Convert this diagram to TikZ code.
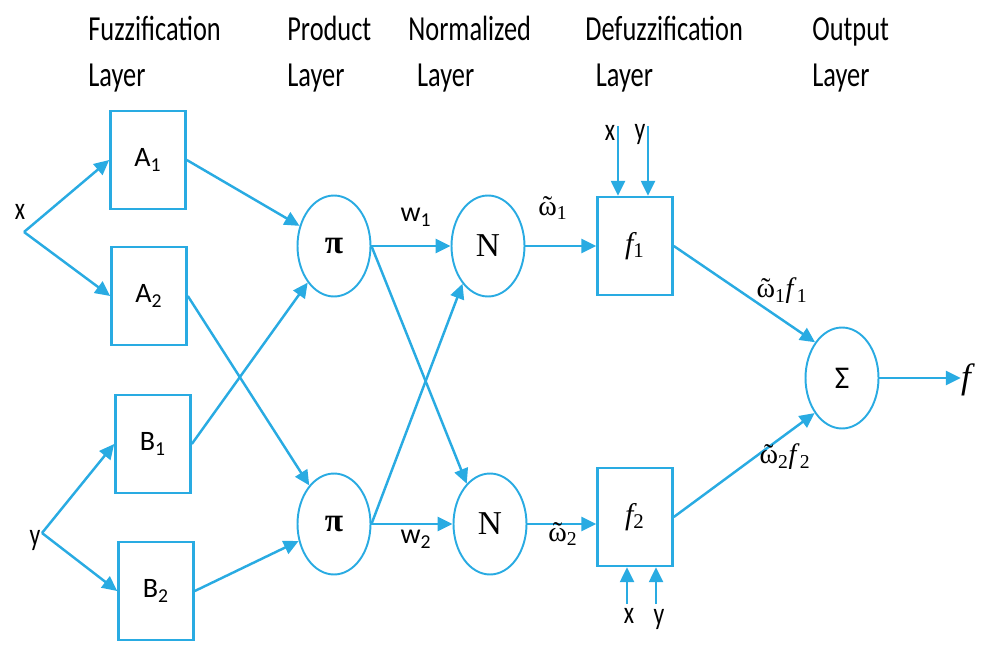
\documentclass[tikz,border=0pt]{standalone}
\usepackage{fontspec}
\setmainfont{Carlito}
\newfontfamily\layerfont[FakeStretch=0.75]{Carlito}
\newfontfamily\seriffont{Liberation Serif}
\usetikzlibrary{arrows.meta,shapes.geometric}
\definecolor{netblue}{RGB}{41,171,226}
\newcommand\omt{{\ooalign{ω\cr\hidewidth˜\hidewidth\cr}}}

\begin{document}
\begin{tikzpicture}[x=0.02cm, y=-0.02cm,
  layer/.style={anchor=base west, align=left, inner sep=0, font=\layerfont\fontsize{20}{26.6}\selectfont},
  inlabel/.style={inner sep=0, font=\layerfont\fontsize{18}{20}\selectfont},
  mfbox/.style={draw=netblue, line width=1.5pt, minimum width=1.5cm, minimum height=1.96cm, font=\fontsize{16}{18}\selectfont},
  fbox/.style={mfbox, font=\seriffont\itshape\fontsize{17}{18}\selectfont},
  neuron/.style={ellipse, draw=netblue, line width=1.1pt, inner sep=0, minimum width=1.46cm, minimum height=2.02cm},
  wlabel/.style={inner sep=0, font=\seriffont\fontsize{16}{18}\selectfont},
  arr/.style={-{Triangle[length=8.5pt, width=8pt]}, draw=netblue, line width=1.4pt}
]
\useasboundingbox (0,0) rectangle (983,645);

% layer titles (anchored on the baseline of the last line)
\node[layer] (tfuzz) at (88,87) {Fuzzification\\Layer};
\node[layer] (tprod) at (287,87) {Product\\Layer};
\node[layer] (tnorm) at (408,87) {Normalized\\\hspace{5pt}Layer};
\node[layer] (tdefz) at (585,87) {Defuzzification\\\hspace{6pt}Layer};
\node[layer] (tout) at (812,87) {Output\\Layer};

% inputs
\node[inlabel] (x) at (20,212) {x};
\node[inlabel] (y) at (35,540) {y};
\coordinate (xsplit) at (24,232);
\coordinate (ysplit) at (42,533);

% fuzzification layer
\node[mfbox] (A1) at (148,160) {A\textsubscript{1}};
\node[mfbox] (A2) at (149,296) {A\textsubscript{2}};
\node[mfbox] (B1) at (153,444) {B\textsubscript{1}};
\node[mfbox] (B2) at (156,591) {B\textsubscript{2}};

% product and normalized layers
\node[neuron, font=\seriffont\bfseries\fontsize{19}{18}\selectfont] (pi1) at (334,246) {π};
\node[neuron, font=\seriffont\bfseries\fontsize{19}{18}\selectfont] (pi2) at (334,524) {π};
\node[neuron, font=\seriffont\fontsize{19}{18}\selectfont] (N1) at (488,246) {N};
\node[neuron, font=\seriffont\fontsize{19}{18}\selectfont] (N2) at (490,524) {N};

% defuzzification layer
\node[fbox] (f1) at (635,246) {f\textsubscript{\upshape 1}};
\node[fbox] (f2) at (635,517) {f\textsubscript{\upshape 2}};
\coordinate (f1x) at (618,126);
\coordinate (f1y) at (648,126);
\coordinate (f2x) at (627,604);
\coordinate (f2y) at (656,604);
\node[inlabel] (lf1x) at (610,133) {x};
\node[inlabel] (lf1y) at (640,134) {y};
\node[inlabel] (lf2x) at (629,616) {x};
\node[inlabel] (lf2y) at (659,619) {y};

% output layer
\node[neuron, font=\fontsize{18}{18}\selectfont] (sigma) at (842,378) {Σ};
\node[inner sep=0, font=\seriffont\itshape\fontsize{20}{20}\selectfont] (fout) at (966,380) {f};

% connectors
\draw[arr] (xsplit) -- (A1.west);
\draw[arr] (xsplit) -- (A2.west);
\draw[arr] (ysplit) -- (B1.west);
\draw[arr] (ysplit) -- (B2.west);
\draw[arr] (A1.east) -- (pi1);
\draw[arr] (B1.east) -- (pi1);
\draw[arr] (A2.east) -- (pi2);
\draw[arr] (B2.east) -- (pi2);
\draw[arr] (pi1.east) -- (N1.west);
\draw[arr] (pi1.east) -- (N2.120);
\draw[arr] (pi2.east) -- (N1.236);
\draw[arr] (pi2.east) -- (N2.west);
\draw[arr] (N1.east) -- (f1.west);
\draw[arr] (N2.east) -- (N2.east -| f2.west);
\draw[arr] (f1x) -- (f1x |- f1.north);
\draw[arr] (f1y) -- (f1y |- f1.north);
\draw[arr] (f2x) -- (f2x |- f2.south);
\draw[arr] (f2y) -- (f2y |- f2.south);
\draw[arr] (f1.east) -- (sigma.127);
\draw[arr] (f2.east) -- (sigma.232);
\draw[arr] (sigma.east) -- (sigma.east -| fout.west);

% weights
\node[inner sep=0, font=\fontsize{16}{18}\selectfont] (w1) at (416,217) {w\textsubscript{1}};
\node[inner sep=0, font=\fontsize{16}{18}\selectfont] (w2) at (416,539) {w\textsubscript{2}};
\node[wlabel] (nw1) at (553,211) {\omt\textsubscript{1}};
\node[wlabel] (nw2) at (563,537) {\omt\textsubscript{2}};
\node[wlabel] (wf1) at (782,291) {\omt\textsubscript{1}\textit{f}\textsubscript{1}};
\node[wlabel] (wf2) at (785,457) {\omt\textsubscript{2}\textit{f}\textsubscript{2}};

\end{tikzpicture}
\end{document}
